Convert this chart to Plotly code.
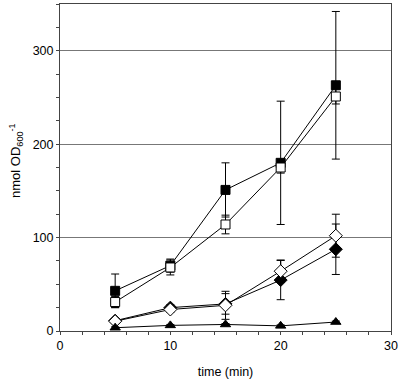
import plotly.graph_objects as go

time = [5, 10, 15, 20, 25]
filled_sq = [43, 70, 151, 180, 263]
filled_sq_err = [18, 7, 29, 66, 79]
open_sq = [31, 68, 114, 175, 251]
open_sq_err = [6, 8, 10, 6, 8]
open_dia = [10.5, 23, 27.5, 64, 102]
open_dia_err = [2, 3, 15, 12, 23]
filled_dia = [11, 25, 29, 54.5, 87.5]
filled_dia_err = [2, 3, 11, 21, 27]
filled_tri = [3.5, 6, 7, 5.5, 9.6]
filled_tri_err = [1, 1, 1, 1, 1]

series = [
    ("filled square", filled_sq, filled_sq_err, "square", "black", 9),
    ("open square", open_sq, open_sq_err, "square", "white", 9),
    ("filled diamond", filled_dia, filled_dia_err, "diamond", "black", 10),
    ("open diamond", open_dia, open_dia_err, "diamond", "white", 10),
    ("filled triangle", filled_tri, filled_tri_err, "triangle-up", "black", 9),
]

fig = go.Figure()
for name, y, err, sym, fill, size in series:
    fig.add_trace(go.Scatter(
        x=time, y=y, name=name, mode="lines+markers",
        line=dict(color="black", width=1),
        marker=dict(symbol=sym, size=size, color=fill, line=dict(color="black", width=1)),
        error_y=dict(type="data", array=err, visible=True, color="black", thickness=1, width=4),
    ))

L, R, T, B = 60, 10, 4, 49
plot_w = 401 - L - R

fig.update_layout(
    width=401, height=380,
    margin=dict(l=L, r=R, t=T, b=B),
    paper_bgcolor="white", plot_bgcolor="white",
    showlegend=False,
    font=dict(family="Liberation Sans, Arial, sans-serif", size=12, color="black"),
    annotations=[dict(
        text="nmol OD<sub>600</sub><sup>-1</sup>", textangle=-90,
        xref="paper", yref="paper", x=(16 - L) / plot_w, y=0.52,
        xanchor="center", yanchor="middle", showarrow=False,
        font=dict(size=13),
    )],
)
fig.update_xaxes(
    range=[0, 30], dtick=10, tick0=0, automargin=False,
    showgrid=False, zeroline=False,
    showline=True, linecolor="#444", linewidth=1, mirror=True,
    ticks="outside", ticklen=3, tickcolor="#444",
    minor=dict(dtick=2, ticks="outside", ticklen=3, tickcolor="#444"),
    title=dict(text="time (min)", font=dict(size=12.5)),
    tickfont=dict(size=12.5),
)
fig.update_yaxes(
    range=[0, 350], dtick=100, tick0=0, automargin=False,
    showgrid=True, gridcolor="#777", gridwidth=1, zeroline=False,
    showline=True, linecolor="#444", linewidth=1, mirror=True,
    ticks="outside", ticklen=3, tickcolor="#444",
    minor=dict(dtick=25, ticks="outside", ticklen=3, tickcolor="#444", showgrid=False),
    tickfont=dict(size=12.5),
)
fig.write_html("out.html", config={"displayModeBar": False},
               post_script="document.body.style.margin='0';document.body.style.overflow='hidden';")
